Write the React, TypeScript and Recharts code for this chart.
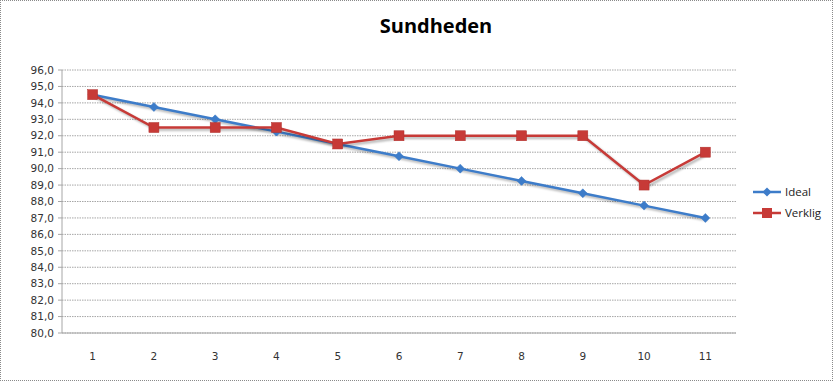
import React from 'react';
import { LineChart, Line, XAxis, YAxis, CartesianGrid } from 'recharts';

const categories = ['1', '2', '3', '4', '5', '6', '7', '8', '9', '10', '11'];
const ideal = [94.5, 93.75, 93.0, 92.25, 91.5, 90.75, 90.0, 89.25, 88.5, 87.75, 87.0];
const verklig = [94.5, 92.5, 92.5, 92.5, 91.5, 92.0, 92.0, 92.0, 92.0, 89.0, 91.0];
const yTicks = [80, 81, 82, 83, 84, 85, 86, 87, 88, 89, 90, 91, 92, 93, 94, 95, 96];

const data = categories.map((c, i) => ({ cat: c, Ideal: ideal[i], Verklig: verklig[i] }));

const BLUE = '#3d7cc9';
const RED = '#c73a37';
const shadow = { filter: 'drop-shadow(2px 2px 1.2px rgba(0,0,0,0.3))' };

const Diamond = (props: any) => {
  const { cx, cy, fill } = props;
  if (cx == null || cy == null) return null;
  const r = 4.5;
  return <path d={`M${cx},${cy - r}L${cx + r},${cy}L${cx},${cy + r}L${cx - r},${cy}Z`} fill={fill} stroke={fill} strokeWidth={0.5} />;
};
const Square = (props: any) => {
  const { cx, cy, fill } = props;
  if (cx == null || cy == null) return null;
  const s = 5;
  return <rect x={cx - s} y={cy - s} width={2 * s} height={2 * s} fill={fill} stroke="#b0302d" strokeWidth={0.5} />;
};

const LegendBox = () => (
  <div style={{ position: 'absolute', left: 752, top: 181, fontFamily: 'Open Sans, Lato, sans-serif', fontSize: 11.5, color: '#222' }}>
    {[
      { name: 'Ideal', color: BLUE, shape: 'd' },
      { name: 'Verklig', color: RED, shape: 's' },
    ].map((e) => (
      <div key={e.name} style={{ display: 'flex', alignItems: 'center', height: 21 }}>
        <svg width={30} height={14} style={{ marginRight: 3 }}>
          <line x1={1} y1={7} x2={29} y2={7} stroke={e.color} strokeWidth={2.5} />
          {e.shape === 'd' ? (
            <path d="M15,2.5L19.5,7L15,11.5L10.5,7Z" fill={e.color} />
          ) : (
            <rect x={10} y={2} width={10} height={10} fill={e.color} />
          )}
        </svg>
        <span>{e.name}</span>
      </div>
    ))}
  </div>
);

export default function App() {
  return (
    <div style={{ position: 'absolute', left: 0, top: 0, width: 835, height: 383, background: '#fff' }}>
      <div
        style={{
          position: 'absolute', left: 0, top: 12, width: 872, textAlign: 'center',
          fontFamily: 'Open Sans, Lato, sans-serif', fontWeight: 700, fontSize: 20, color: '#000',
        }}
      >
        Sundheden
      </div>
      <LineChart
        width={835}
        height={383}
        data={data}
        margin={{ top: 70, right: 99, bottom: 20, left: 0 }}
      >
        <CartesianGrid vertical={false} stroke="#a6a6a6" strokeDasharray="1.5 1" />
        <XAxis
          dataKey="cat"
          scale="band"
          height={30}
          axisLine={{ stroke: '#a6a6a6' }}
          tickLine={false}
          tickMargin={14}
          tick={{ fontFamily: 'DejaVu Sans, sans-serif', fontSize: 10.5, fill: '#333' }}
        />
        <YAxis
          width={62}
          domain={[80, 96]}
          ticks={yTicks}
          interval={0}
          allowDataOverflow
          tickFormatter={(v: number) => v.toFixed(1).replace('.', ',')}
          axisLine={{ stroke: '#a6a6a6' }}
          tickLine={{ stroke: '#a6a6a6' }}
          tickSize={4}
          tickMargin={4}
          tick={{ fontFamily: 'DejaVu Sans, sans-serif', fontSize: 10.5, fill: '#333' }}
        />
        <Line
          type="linear"
          dataKey="Ideal"
          stroke={BLUE}
          strokeWidth={2.5}
          fill={BLUE}
          dot={<Diamond fill={BLUE} />}
          activeDot={false}
          isAnimationActive={false}
          style={shadow}
        />
        <Line
          type="linear"
          dataKey="Verklig"
          stroke={RED}
          strokeWidth={2.5}
          fill={RED}
          dot={<Square fill={RED} />}
          activeDot={false}
          isAnimationActive={false}
          style={shadow}
        />
      </LineChart>
      <LegendBox />
      <div
        style={{
          position: 'absolute', left: 0, top: 0, width: 831, height: 379,
          border: '1px dotted #8a8a8a', pointerEvents: 'none',
        }}
      />
    </div>
  );
}
